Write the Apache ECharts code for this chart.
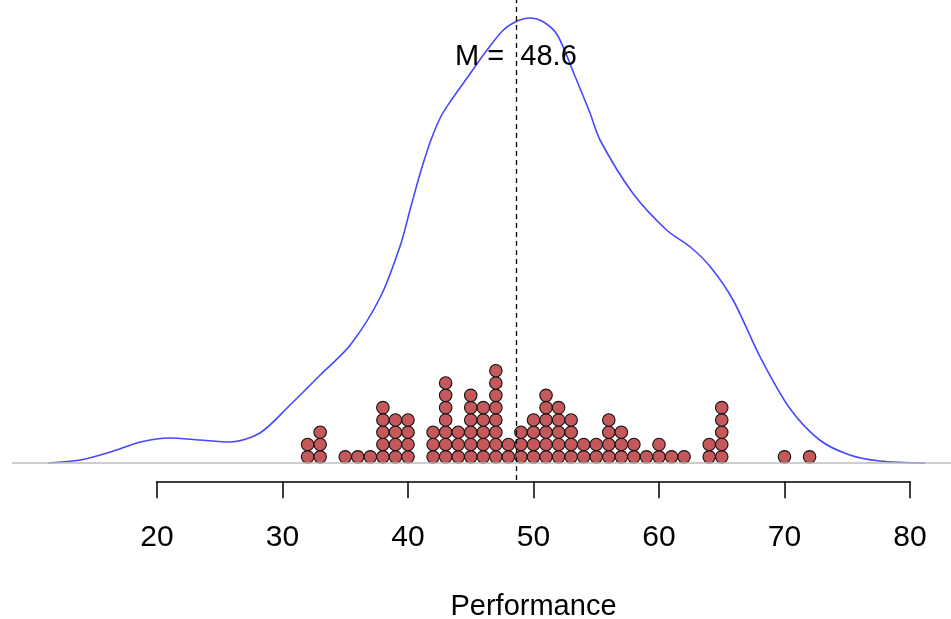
<!DOCTYPE html>
<html>
<head>
<meta charset="utf-8">
<script src="https://cdn.jsdelivr.net/npm/echarts@6/dist/echarts.min.js"></script>
<style>
  html, body { margin: 0; padding: 0; background: #fff; }
  #main { width: 951px; height: 619px; }
</style>
</head>
<body>
<div id="main"></div>
<script>
// 点图：每个成绩值及其人数
const dotValues = [32, 33, 35, 36, 37, 38, 39, 40, 42, 43, 44, 45, 46, 47, 48, 49, 50,
  51, 52, 53, 54, 55, 56, 57, 58, 59, 60, 61, 62, 64, 65, 70, 72];
const dotCounts = [2, 3, 1, 1, 1, 5, 4, 4, 3, 7, 3, 6, 5, 8, 2, 3, 4,
  6, 5, 4, 2, 2, 4, 3, 2, 1, 2, 1, 1, 2, 5, 1, 1];

// 密度曲线
const densX = [11.3, 13.9, 16.3, 18.7, 21.0, 23.4, 25.8, 28.2, 30.6, 33.0, 35.4, 37.8,
  39.4, 40.2, 41.0, 41.8, 42.6, 43.4, 44.7, 46.3, 47.6, 48.7, 49.7, 50.8, 51.9, 53.2, 54.5, 55.3,
  57.9, 60.6, 62.5, 64.1, 65.9, 68.1, 70.4, 72.8, 75.2, 77.6, 81.2];
const densY = [0.0000, 0.0003, 0.0011, 0.0021, 0.0025, 0.0023, 0.0021, 0.0030, 0.0058, 0.0088, 0.0118, 0.0166,
  0.0218, 0.0255, 0.0291, 0.0322, 0.0346, 0.0362, 0.0385, 0.0413, 0.0433, 0.0442, 0.0445, 0.0441, 0.0428, 0.0390, 0.0350, 0.0323,
  0.0270, 0.0233, 0.0216, 0.0196, 0.0163, 0.0105, 0.0055, 0.0023, 0.0008, 0.0002, 0.0000];

// 坐标轴刻度
const tickValues = [20, 30, 40, 50, 60, 70, 80];
const meanValue = 48.6;
const dotStep = 0.00123; // 每个点在密度轴上的高度

const font = 'Liberation Sans, Arial, Helvetica, sans-serif';

// 把人数展开成堆叠的点
const dots = [];
dotValues.forEach((v, i) => {
  for (let k = 0; k < dotCounts[i]; k++) {
    dots.push([v, (k + 0.5) * dotStep]);
  }
});

const myChart = echarts.init(document.getElementById('main'));

myChart.setOption({
  animation: false,
  grid: [
    // 绘图区
    { left: 12, right: 0, top: 0, bottom: 139 },
    // 只放坐标轴
    { left: 157, right: 41, top: 481, height: 1 }
  ],
  xAxis: [
    {
      gridIndex: 0,
      type: 'value',
      min: 8.446,
      max: 83.267,
      show: false
    },
    {
      gridIndex: 1,
      type: 'value',
      min: tickValues[0],
      max: tickValues[tickValues.length - 1],
      interval: 10,
      axisLine: { lineStyle: { color: '#000', width: 1.5 } },
      axisTick: { length: 17, lineStyle: { color: '#000', width: 1.5 } },
      axisLabel: { margin: 41, fontSize: 30, color: '#000', fontFamily: font },
      splitLine: { show: false },
      name: 'Performance',
      nameLocation: 'middle',
      nameGap: 111,
      nameTextStyle: { fontSize: 29, color: '#000', fontFamily: font }
    }
  ],
  yAxis: [
    { gridIndex: 0, type: 'value', min: -0.0017, max: 0.0463, show: false },
    { gridIndex: 1, type: 'value', show: false }
  ],
  series: [
    {
      // 密度曲线
      type: 'line',
      data: densX.map((x, i) => [x, densY[i]]),
      smooth: 0.3,
      symbol: 'none',
      lineStyle: { color: '#4747ff', width: 1.6 },
      markLine: {
        silent: true,
        symbol: 'none',
        label: { show: false },
        data: [
          { yAxis: 0, lineStyle: { color: '#bdbdbd', type: 'solid', width: 1.5 } },
          { xAxis: meanValue, lineStyle: { color: '#000', type: [5, 4], width: 1.3 } }
        ]
      },
      z: 3
    },
    {
      // 点图
      type: 'scatter',
      data: dots,
      symbolSize: 12.5,
      itemStyle: { color: '#c4585a', borderColor: '#111', borderWidth: 1.1, opacity: 1 },
      z: 4
    },
    {
      // 均值标签
      type: 'scatter',
      data: [[meanValue, 0.0406]],
      symbolSize: 0,
      itemStyle: { opacity: 1 },
      label: {
        show: true,
        position: 'inside',
        formatter: 'M =  ' + meanValue,
        fontSize: 29,
        color: '#000',
        fontFamily: font
      },
      z: 5
    }
  ]
});
</script>
</body>
</html>
